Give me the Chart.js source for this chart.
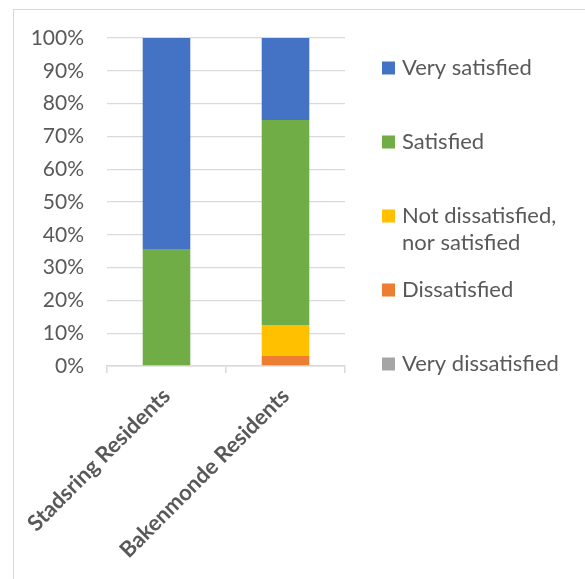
<!DOCTYPE html>
<html>
<head>
<meta charset="utf-8">
<script src="https://cdn.jsdelivr.net/npm/chart.js@4/dist/chart.umd.min.js"></script>
<style>
  html, body { margin: 0; padding: 0; background: #fff; overflow: hidden; }
  #frame { position: absolute; left: 13px; top: 9px; width: 640px; height: 640px;
           border-left: 1px solid #d9d9d9; border-top: 1px solid #d9d9d9; }
  #wrap { position: absolute; left: 0; top: 0; width: 585px; height: 579px; }
</style>
</head>
<body>
<div id="frame"></div>
<div id="wrap"><canvas id="c" width="585" height="579"></canvas></div>
<script>
// Survey groups on the x axis
const categories = ['Stadsring Residents', 'Bakenmonde Residents'];

// Share of respondents per answer (percent), bottom of the stack first
const veryDissatisfied = [0, 0];
const dissatisfied     = [0, 3.1];
const neutral          = [0, 9.4];
const satisfied        = [35.7, 62.5];
const verySatisfied    = [64.3, 25];

const seriesNames = ['Very dissatisfied', 'Dissatisfied', 'Not dissatisfied, nor satisfied', 'Satisfied', 'Very satisfied'];
const seriesColors = ['#A5A5A5', '#ED7D31', '#FFC000', '#70AD47', '#4472C4'];
const seriesValues = [veryDissatisfied, dissatisfied, neutral, satisfied, verySatisfied];

const yTicks = [0, 10, 20, 30, 40, 50, 60, 70, 80, 90, 100];

const FONT = 'Lato, "Open Sans", sans-serif';
const TEXT = '#595959';
const GRID = '#d9d9d9';

// Legend drawn on the right, top answer first, long names wrapped
const sideLegend = {
  id: 'sideLegend',
  afterDraw(chart) {
    const ctx = chart.ctx;
    const x0 = 382, box = 13, textX = 402, maxW = 178;
    const lineH = 27, step = 74;
    let y = 68;
    ctx.save();
    ctx.font = '22px ' + FONT;
    ctx.textBaseline = 'middle';
    ctx.textAlign = 'left';
    const items = chart.data.datasets.slice().reverse();
    items.forEach(ds => {
      const words = ds.label.split(' ');
      const lines = [];
      let cur = '';
      words.forEach(w => {
        const t = cur ? cur + ' ' + w : w;
        if (ctx.measureText(t).width > maxW && cur) { lines.push(cur); cur = w; }
        else cur = t;
      });
      if (cur) lines.push(cur);
      ctx.fillStyle = ds.backgroundColor;
      ctx.fillRect(x0, y - box / 2, box, box);
      ctx.fillStyle = TEXT;
      lines.forEach((ln, i) => ctx.fillText(ln, textX, y + i * lineH));
      y += step;
    });
    ctx.restore();
  }
};

new Chart(document.getElementById('c'), {
  type: 'bar',
  data: {
    labels: categories,
    datasets: seriesNames.map((name, i) => ({
      label: name,
      data: seriesValues[i],
      backgroundColor: seriesColors[i],
      borderWidth: 0,
      categoryPercentage: 1.0,
      barPercentage: 0.4
    }))
  },
  options: {
    responsive: false,
    animation: false,
    devicePixelRatio: 1,
    layout: { padding: { left: 0, right: 240, top: 38, bottom: 0 } },
    plugins: {
      legend: { display: false },
      tooltip: { enabled: false }
    },
    scales: {
      x: {
        stacked: true,
        grid: { display: true, drawOnChartArea: false, drawTicks: true, tickLength: 7, color: GRID, lineWidth: 1.5, offset: true },
        border: { display: true, color: GRID, width: 1.5 },
        ticks: {
          color: TEXT,
          font: { family: FONT, size: 22, weight: 'bold' },
          minRotation: 45, maxRotation: 45,
          padding: 10
        },
        afterFit(scale) {
          scale.height = 213;
          scale.paddingLeft = 0;
          scale.paddingRight = 0;
        }
      },
      y: {
        stacked: true,
        min: 0, max: 100,
        afterBuildTicks(scale) { scale.ticks = yTicks.map(v => ({ value: v })); },
        grid: { color: GRID, lineWidth: 1.3, drawTicks: false },
        border: { display: false },
        ticks: {
          color: TEXT,
          font: { family: FONT, size: 21 },
          padding: 23,
          callback: v => v + '%'
        },
        afterFit(scale) {
          scale.width = 107;
          scale.paddingTop = 0;
          scale.paddingBottom = 0;
        }
      }
    }
  },
  plugins: [sideLegend]
});
</script>
</body>
</html>
